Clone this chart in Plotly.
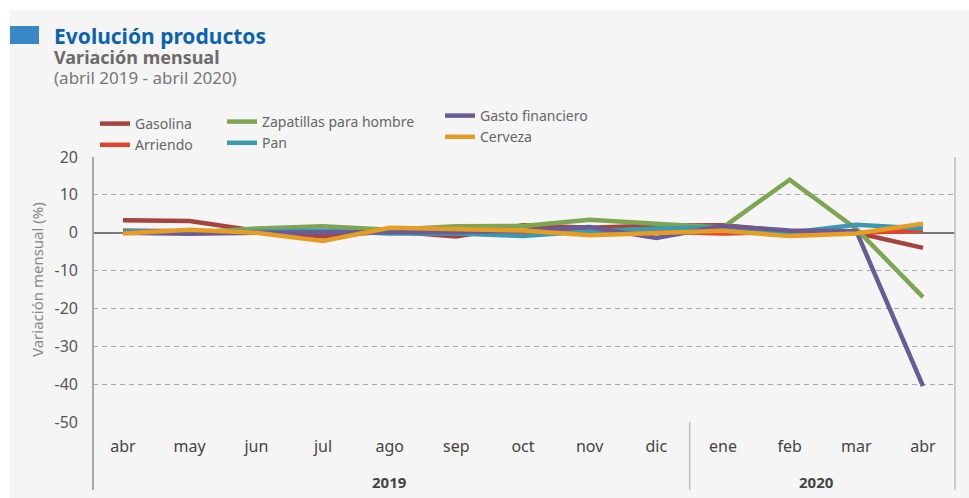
import plotly.graph_objects as go

months = ["abr", "may", "jun", "jul", "ago", "sep", "oct", "nov", "dic", "ene", "feb", "mar", "abr"]
years = ["2019", "2020"]

gasolina = [3.3, 3.1, 0.5, -1.0, 0.4, -1.0, 2.0, 1.3, 1.9, 2.0, 0.3, 0.0, -4.0]
arriendo = [0.5, 0.3, 0.3, 0.3, 0.3, 0.3, 0.3, 0.3, 0.3, -0.2, 0.2, 0.0, 0.5]
zapatillas = [0.3, 0.0, 1.1, 1.7, 0.8, 1.7, 1.8, 3.4, 2.4, 1.4, 14.0, 1.0, -17.0]
pan = [0.5, 0.2, 0.3, 0.5, -0.2, -0.2, -0.9, 0.4, 1.1, 1.5, 0.0, 2.1, 1.1]
gasto = [0.0, -0.3, 0.0, 0.0, 0.0, 0.2, 0.5, 1.5, -1.4, 1.8, 0.6, 0.4, -40.5]
cerveza = [-0.2, 0.8, 0.0, -2.2, 1.3, 0.9, 0.6, -0.7, -0.2, 0.5, -0.9, -0.2, 2.4]

yticks = [20, 10, 0, -10, -20, -30, -40, -50]
ytick_labels = ["20", "10", "0", "-10", "-20", "-30", "-40", "-50"]

W, H = 969, 498
L, R, T, B = 93, 955, 157, 422


def px(x):
    return (x - L) / (R - L)


def py(y):
    return (B - y) / (B - T)


FONT = "Noto Sans"
xs = list(range(len(months)))

series = [
    ("Gasolina", gasolina, "#a5433f", "legend"),
    ("Arriendo", arriendo, "#e2432b", "legend"),
    ("Zapatillas para hombre", zapatillas, "#7ea552", "legend2"),
    ("Pan", pan, "#3c9ab0", "legend2"),
    ("Gasto financiero", gasto, "#6a5a95", "legend3"),
    ("Cerveza", cerveza, "#e59d24", "legend3"),
]

fig = go.Figure()
for name, vals, col, lg in series:
    fig.add_trace(go.Scatter(
        x=xs, y=vals, name=name, mode="lines",
        line=dict(color=col, width=4.5),
        legend=lg,
    ))

legend_common = dict(
    orientation="v", xanchor="left", yanchor="top",
    bgcolor="rgba(0,0,0,0)", borderwidth=0,
    font=dict(family=FONT, size=14, color="#666"),
    itemwidth=30, tracegroupgap=0,
)

shapes = [
    dict(type="rect", xref="paper", yref="paper", x0=px(10), x1=px(969), y0=py(498), y1=py(10),
         fillcolor="#f5f5f5", line=dict(width=0), layer="below"),
    dict(type="rect", xref="paper", yref="paper", x0=px(10), x1=px(39), y0=py(44), y1=py(26),
         fillcolor="#3a87c8", line=dict(width=0), layer="above"),
    dict(type="line", xref="paper", yref="paper", x0=0, x1=0, y0=py(490), y1=1,
         line=dict(color="#a8a8a8", width=2)),
    dict(type="line", xref="paper", yref="paper", x0=1, x1=1, y0=py(490), y1=1,
         line=dict(color="#bdbdbd", width=1.5)),
    dict(type="line", xref="x", yref="paper", x0=8.5, x1=8.5, y0=py(490), y1=0,
         line=dict(color="#bdbdbd", width=1.5)),
]

title_text = (
    "<span style='font-size:21px;color:#0b63b0'><b>Evolución productos</b></span><br>"
    "<span style='font-size:18px;color:#6b6b6b'><b>Variación mensual</b></span><br>"
    "<span style='font-size:17px;color:#777'>(abril 2019 - abril 2020)</span>"
)

annotations = [
    dict(text=title_text, xref="paper", yref="paper", x=px(52), y=py(55),
         xanchor="left", yanchor="middle", align="left", showarrow=False,
         font=dict(family=FONT, size=15.5, color="#777")),
    dict(text="Variación mensual (%)", xref="paper", yref="paper", x=px(37), y=py(280),
         xanchor="center", yanchor="middle", textangle=-90, showarrow=False,
         font=dict(family=FONT, size=15, color="#888")),
    dict(text="<b>" + years[0] + "</b>", xref="x", yref="paper", x=4, y=py(482),
         xanchor="center", yanchor="middle", showarrow=False,
         font=dict(family=FONT, size=15, color="#444")),
    dict(text="<b>" + years[1] + "</b>", xref="x", yref="paper", x=10.4, y=py(482),
         xanchor="center", yanchor="middle", showarrow=False,
         font=dict(family=FONT, size=15, color="#444")),
]

fig.update_layout(
    width=W, height=H,
    margin=dict(l=L, r=W - R, t=T, b=H - B, pad=0),
    paper_bgcolor="white",
    plot_bgcolor="rgba(0,0,0,0)",
    showlegend=True,
    legend=dict(legend_common, x=px(95), y=py(108)),
    legend2=dict(legend_common, x=px(222), y=py(106)),
    legend3=dict(legend_common, x=px(440), y=py(100)),
    xaxis=dict(
        range=[-0.45, 12.48], tickmode="array", tickvals=xs, ticktext=months,
        showgrid=False, zeroline=False, showline=False, ticks="",
        ticklabelstandoff=13,
        tickfont=dict(family=FONT, size=16, color="#444"),
        fixedrange=True,
    ),
    yaxis=dict(
        range=[-50, 20], tickmode="array", tickvals=yticks, ticktext=ytick_labels,
        showgrid=True, gridcolor="#a9a9a9", gridwidth=1, griddash="5px,4px",
        zeroline=True, zerolinecolor="#7a7a7a", zerolinewidth=2,
        showline=False, ticks="", ticklabelstandoff=14,
        tickfont=dict(family=FONT, size=16, color="#555"),
        fixedrange=True,
    ),
    shapes=shapes,
    annotations=annotations,
)

fig.write_html(
    "out.html",
    config={"displayModeBar": False},
    post_script="document.body.style.margin='0';document.body.style.padding='0';",
)
